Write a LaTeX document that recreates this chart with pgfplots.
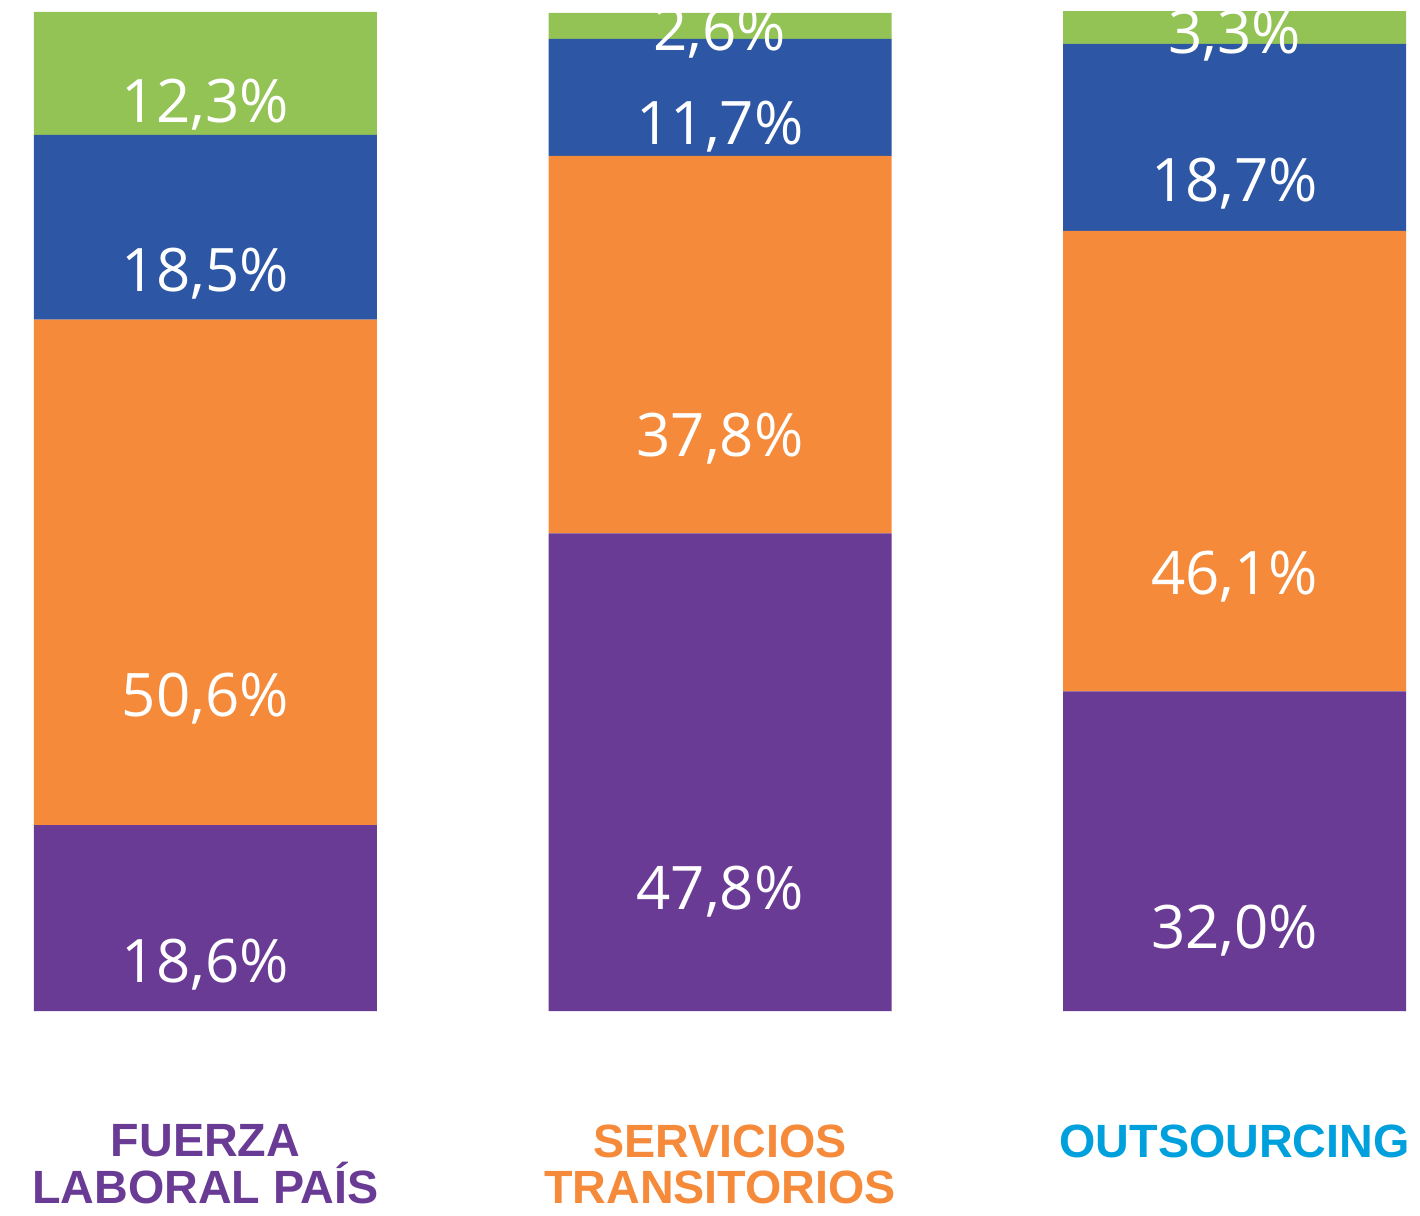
\documentclass[border=0pt]{standalone}
\usepackage{fontspec}
\setmainfont{Open Sans}
\newfontfamily\labelfont{Liberation Sans}
\usepackage{pgfplots}
\pgfplotsset{compat=1.18}
\definecolor{cpurple}{HTML}{6A3B95}
\definecolor{corange}{HTML}{F58A3A}
\definecolor{cblue}{HTML}{2D56A5}
\definecolor{cgreen}{HTML}{93C255}
\definecolor{ccyan}{HTML}{00A0DC}

\begin{document}
\begin{tikzpicture}
    % page = 1420 x 1215 px at 0.3pt per px
    \useasboundingbox (0,-61.2pt) rectangle (426pt,303.3pt);
    \begin{axis}[
        at={(0,0)}, anchor=south west,
        scale only axis,
        width=426pt, height=299.7pt,
        xmin=-0.3994, xmax=2.3605,
        ymin=0, ymax=100,
        ybar stacked,
        bar width=102.9pt,
        clip=false,
        axis line style={draw=none},
        major tick length=0pt,
        ytick=\empty,
        xtick={0,1,2},
        xticklabels={
            {\color{cpurple}FUERZA\\\color{cpurple}LABORAL PAÍS},
            {\color{corange}SERVICIOS\\\color{corange}TRANSITORIOS},
            {\color{ccyan}OUTSOURCING}},
        xticklabel style={align=center, anchor=north, inner sep=0pt, yshift=-33.9pt,
            font=\labelfont\bfseries\fontsize{14}{14}\selectfont},
        every axis plot/.append style={draw=none},
        visualization depends on=rawy \as \rawy,
        nodes near coords={\pgfmathprintnumber[fixed, fixed zerofill, precision=1, use comma]{\pgfplotspointmeta}\%},
        nodes near coords style={font=\fontsize{18}{20}\selectfont, text=white,
            anchor=center, yshift=-\rawy*0.74925pt},
        /pgf/number format/assume math mode=true,
    ]
        % purple, orange, blue, green from bottom to top
        \addplot[fill=cpurple] coordinates {(0,18.6) (1,47.8) (2,32.0)};
        \addplot[fill=corange] coordinates {(0,50.6) (1,37.8) (2,46.1)};
        \addplot[fill=cblue]   coordinates {(0,18.5) (1,11.7) (2,18.7)};
        \addplot[fill=cgreen]  coordinates {(0,12.3) (1,2.6)  (2,3.3)};
    \end{axis}
\end{tikzpicture}
\end{document}
